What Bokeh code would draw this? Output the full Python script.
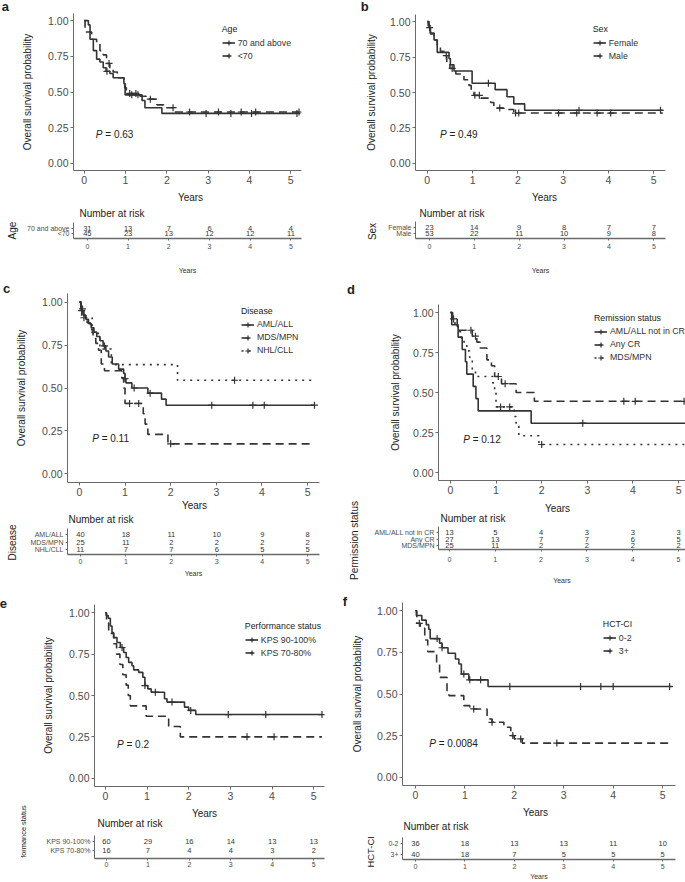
import numpy as np
from bokeh.plotting import figure
from bokeh.layouts import column, row
from bokeh.models import (Range1d, FixedTicker, PrintfTickFormatter, Label, Legend,
                          LegendItem, Title)
from bokeh.embed import file_html
from bokeh.resources import INLINE
from bokeh.core.properties import value

# ---------------- data ----------------
years = [0, 1, 2, 3, 4, 5]
y_ticks = [0.0, 0.25, 0.5, 0.75, 1.0]

# a: Age
a_groups = ["70 and above", "<70"]
a_old_t = [0, 0.1, 0.14, 0.22, 0.3, 0.38, 0.46, 0.53, 0.62, 0.7, 0.96, 0.99, 1.4, 1.47, 1.88, 5.15]
a_old_s = [1.0, 0.97, 0.87, 0.79, 0.73, 0.71, 0.67, 0.645, 0.63, 0.60, 0.56, 0.48, 0.44, 0.39, 0.35, 0.35]
a_old_cens = [0.55, 1.15, 1.3, 2.95, 3.55, 4.05, 5.15]
a_young_t = [0, 0.02, 0.18, 0.3, 0.38, 0.46, 0.54, 0.62, 0.7, 0.8, 0.96, 0.98, 1.02, 1.35, 1.5, 1.76, 1.92, 2.16, 5.2]
a_young_s = [1.0, 0.92, 0.87, 0.84, 0.79, 0.76, 0.70, 0.67, 0.64, 0.60, 0.58, 0.53, 0.49, 0.47, 0.45, 0.41, 0.39, 0.36, 0.36]
a_young_cens = [0.6, 1.1, 1.25, 1.6, 2.15, 2.55, 3.25, 3.8, 4.15, 5.2]
a_risk_old = [31, 13, 7, 6, 4, 4]
a_risk_young = [45, 23, 13, 12, 12, 11]
a_pval = "0.63"

# b: Sex
b_groups = ["Female", "Male"]
b_fem_t = [0, 0.04, 0.07, 0.15, 0.22, 0.48, 0.51, 0.59, 0.99, 1.5, 1.76, 1.91, 2.15, 5.2]
b_fem_s = [1.0, 0.957, 0.913, 0.87, 0.783, 0.739, 0.696, 0.652, 0.565, 0.52, 0.47, 0.42, 0.375, 0.375]
b_fem_cens = [0.05, 1.35, 3.35, 5.15]
b_male_t = [0, 0.02, 0.07, 0.15, 0.22, 0.29, 0.39, 0.43, 0.5, 0.63, 0.81, 0.92, 0.97, 1.03, 1.18, 1.4, 1.47, 1.69, 1.91, 5.2]
b_male_s = [1.0, 0.97, 0.92, 0.87, 0.82, 0.79, 0.76, 0.71, 0.67, 0.63, 0.59, 0.55, 0.5, 0.48, 0.46, 0.43, 0.39, 0.38, 0.355, 0.355]
b_male_cens = [0.42, 0.55, 1.05, 1.15, 1.6, 1.95, 2.02, 2.9, 3.3, 3.75, 4.05]
b_risk_fem = [23, 14, 9, 8, 7, 7]
b_risk_male = [53, 22, 11, 10, 9, 8]
b_pval = "0.49"

# MDS/MPN group (shown in c and d)
mds_t = [0, 0.03, 0.1, 0.17, 0.24, 0.3, 0.36, 0.42, 0.48, 0.55, 0.93, 0.97, 1.0, 1.4, 1.44, 1.5, 1.94, 5.15]
mds_s = [1.0, 0.96, 0.92, 0.88, 0.84, 0.80, 0.76, 0.72, 0.64, 0.60, 0.56, 0.50, 0.41, 0.35, 0.29, 0.23, 0.175, 0.175]
mds_cens = [0.07, 1.1, 1.3, 2.0]
mds_risk = [25, 11, 2, 2, 2, 2]

# c: Disease
c_groups = ["AML/ALL", "MDS/MPN", "NHL/CLL"]
c_aml_t = [0, 0.04, 0.08, 0.14, 0.2, 0.26, 0.32, 0.38, 0.45, 0.52, 0.58, 0.64, 0.72, 0.86, 0.97, 1.0, 1.02, 1.15, 1.5, 1.8, 1.9, 5.15]
c_aml_s = [1.0, 0.95, 0.925, 0.9, 0.875, 0.85, 0.825, 0.8, 0.775, 0.745, 0.715, 0.68, 0.64, 0.61, 0.585, 0.555, 0.53, 0.50, 0.47, 0.435, 0.40, 0.40]
c_aml_cens = [0.05, 0.55, 1.0, 1.2, 1.55, 2.9, 3.8, 4.05, 5.15]
c_nhl_t = [0, 0.05, 0.28, 0.45, 0.7, 2.15, 5.15]
c_nhl_s = [1.0, 0.909, 0.818, 0.727, 0.636, 0.545, 0.545]
c_nhl_cens = [0.1, 3.4]
c_risk_aml = [40, 18, 11, 10, 9, 8]
c_risk_nhl = [11, 7, 7, 6, 5, 5]
c_pval = "0.11"

# d: Remission status
d_groups = ["AML/ALL not in CR", "Any CR", "MDS/MPN"]
d_nocr_t = [0, 0.03, 0.17, 0.26, 0.33, 0.36, 0.5, 0.56, 0.61, 1.77, 5.2]
d_nocr_s = [1.0, 0.923, 0.846, 0.769, 0.692, 0.615, 0.538, 0.462, 0.385, 0.308, 0.308]
d_nocr_cens = [2.9]
d_cr_t = [0, 0.05, 0.15, 0.48, 0.58, 0.65, 0.8, 0.9, 0.97, 1.12, 1.44, 1.84, 5.2]
d_cr_s = [1.0, 0.963, 0.889, 0.852, 0.815, 0.778, 0.704, 0.667, 0.60, 0.555, 0.50, 0.445, 0.445]
d_cr_cens = [0.45, 0.55, 1.05, 1.2, 3.8, 4.05, 5.12]
d_risk_nocr = [13, 5, 4, 3, 3, 3]
d_risk_cr = [27, 13, 7, 7, 6, 5]
d_pval = "0.12"

# e: Performance status
e_groups = ["KPS 90-100%", "KPS 70-80%"]
e_hi_t = [0, 0.02, 0.07, 0.12, 0.16, 0.2, 0.28, 0.36, 0.44, 0.5, 0.56, 0.64, 0.68, 0.8, 0.9, 0.95, 1.02, 1.1, 1.42, 1.48, 1.9, 2.0, 2.17, 5.2]
e_hi_s = [1.0, 0.983, 0.967, 0.92, 0.88, 0.85, 0.82, 0.79, 0.76, 0.73, 0.70, 0.68, 0.655, 0.64, 0.61, 0.56, 0.54, 0.52, 0.48, 0.46, 0.43, 0.41, 0.385, 0.385]
e_hi_cens = [0.4, 0.95, 1.2, 1.6, 2.05, 2.95, 3.85, 5.2]
e_lo_t = [0, 0.03, 0.08, 0.2, 0.27, 0.35, 0.42, 0.5, 0.55, 0.6, 0.98, 1.52, 1.8, 5.2]
e_lo_s = [1.0, 0.9375, 0.875, 0.8125, 0.75, 0.6875, 0.625, 0.5625, 0.5, 0.4375, 0.375, 0.3125, 0.25, 0.25]
e_lo_cens = [3.4, 4.05]
e_risk_hi = [60, 29, 16, 14, 13, 13]
e_risk_lo = [16, 7, 4, 4, 3, 2]
e_pval = "0.2"

# f: HCT-CI
f_groups = ["0-2", "3+"]
f_lo_t = [0, 0.02, 0.13, 0.22, 0.27, 0.3, 0.49, 0.54, 0.66, 0.81, 0.88, 0.93, 1.08, 1.47, 5.2]
f_lo_s = [1.0, 0.972, 0.944, 0.917, 0.889, 0.833, 0.806, 0.778, 0.745, 0.71, 0.68, 0.62, 0.585, 0.545, 0.545]
f_lo_cens = [0.44, 0.54, 0.98, 1.1, 1.32, 1.91, 3.34, 3.75, 4.0, 5.14]
f_hi_t = [0, 0.03, 0.1, 0.19, 0.25, 0.43, 0.49, 0.64, 0.68, 0.98, 1.1, 1.45, 1.55, 1.79, 1.93, 2.0, 2.16, 5.2]
f_hi_s = [1.0, 0.925, 0.895, 0.825, 0.755, 0.684, 0.60, 0.52, 0.49, 0.43, 0.41, 0.35, 0.33, 0.30, 0.25, 0.23, 0.205, 0.205]
f_hi_cens = [0.08, 1.18, 1.55, 1.97, 2.13, 2.86]
f_risk_lo = [36, 18, 13, 13, 11, 10]
f_risk_hi = [40, 18, 7, 5, 5, 5]
f_pval = "0.0084"

# ---------------- styling / layout ----------------
FONT = "Liberation Sans"
LINE = "#333333"
AXC = "#6a6a6a"
TXT = "#4d4d4d"
DARK = "#222222"
SX = 1.0
SY = 1.0
DASH = {"solid": "solid", "dashed": "8 5", "dotted": "2 5"}

# Arial / Liberation Sans advance widths (1/1000 em) for text-size estimates
_W = {' ': 278, '-': 333, '%': 889, '/': 278, '+': 584, '<': 584, '.': 278, 'A': 667, 'B': 667,
      'C': 722, 'D': 722, 'E': 667, 'F': 611, 'H': 722, 'I': 278, 'K': 667, 'L': 556, 'M': 833,
      'N': 722, 'P': 667, 'R': 722, 'S': 667, 'T': 611, 'a': 556, 'b': 556, 'c': 500, 'd': 556,
      'e': 556, 'f': 278, 'g': 556, 'h': 556, 'i': 222, 'k': 500, 'l': 222, 'm': 833, 'n': 556,
      'o': 556, 'p': 556, 'r': 333, 's': 500, 't': 278, 'u': 556, 'v': 500, 'x': 500, 'y': 500}


def text_w(s, fs):
    return sum(_W.get(ch, 556) for ch in s) / 1000.0 * fs


def sx(v):
    return int(round(v * SX))


def sy(v):
    return int(round(v * SY))


def th(fs):
    return 1.117 * fs + 0.3


GEOM = {
    "a": dict(box=(0, 0, 340, 280), split=188, kx0=84, kx5=290, ky1=20, ky0=163,
              tleft=70, trows=[228, 233], taxis=238, tls=3, letter=(5, 5), nar=(76, 213),
              ykm=(187, 197), ytb=(187, 270), ylab=(12, 230, 10), leg=(222, 56), yls=12),
    "b": dict(box=(340, 0, 685, 280), split=188, kx0=427, kx5=653, ky1=21, ky0=163,
              tleft=413, trows=[227, 233], taxis=238, tls=3, letter=(364, 6), nar=(417, 213),
              ykm=(542, 197), ytb=(542, 270), ylab=(373, 231, 10), leg=(593, 56), yls=10),
    "c": dict(box=(0, 280, 340, 593), split=499, kx0=78, kx5=307, ky1=302, ky0=473,
              tleft=65, trows=[534, 542, 549], taxis=554, tls=2, letter=(5, 288), nar=(66, 519),
              ykm=(192, 505), ytb=(194, 573), ylab=(12, 542, 10), leg=(240, 350), yls=12),
    "d": dict(box=(340, 280, 685, 593), split=498, kx0=447, kx5=678, ky1=312, ky0=472,
              tleft=436, trows=[532, 538, 545], taxis=549, tls=5, letter=(347, 289), nar=(438, 518),
              ykm=(555, 508), ytb=(560, 580), ylab=(355, 540, 10), leg=(591, 357), yls=9),
    "e": dict(box=(0, 593, 340, 882), split=804, kx0=105, kx5=313, ky1=612, ky0=778,
              tleft=93, trows=[841, 850], taxis=858, tls=1, letter=(3, 600), nar=(96, 823),
              ykm=(203, 813), ytb=None, ylab=(25, 830, 7.4), leg=(245, 653), yls=12),
    "f": dict(box=(340, 593, 685, 882), split=804, kx0=415, kx5=662, ky1=610, ky0=777,
              tleft=402, trows=[844, 855], taxis=860, tls=2, letter=(346, 601), nar=(403, 827),
              ykm=(535, 813), ytb=(537, 877), ylab=(373, 852, 9.4), leg=(603, 651), yls=11),
}


def style_axis(ax, size):
    ax.axis_line_color = AXC
    ax.axis_line_width = 1
    ax.major_tick_line_color = AXC
    ax.major_tick_in = 0
    ax.minor_tick_line_color = None
    ax.minor_tick_in = 0
    ax.minor_tick_out = 0
    ax.major_label_text_font = FONT
    ax.major_label_text_font_size = size
    ax.major_label_text_color = TXT
    ax.axis_label_text_font = FONT
    ax.axis_label_text_font_style = "normal"
    ax.axis_label_text_color = DARK


def add_title(fig, side, text, fs, offset, standoff, valign, style="normal", color=DARK):
    fig.add_layout(Title(text=text, align="left", offset=offset, standoff=standoff,
                         vertical_align=valign, text_font=FONT, text_font_size="%.2fpx" % fs,
                         text_font_style=style, text_color=color), side)


def stack_above(fig, items, border):
    """items nearest-first: (text, font_px, centre distance above frame, x offset, style)."""
    off = 0.0
    for text, fs, c, ox, style in items:
        h = th(fs)
        if 2 * (c - off) - 2 > border - off - 0.5:
            need = 2 * (c - off) - 2 - (border - off - 0.7)
            add_title(fig, "above", " ", 1, 0, need - 2 - th(1), "top")
            off += need
        if 2 * (c - off) - 2 >= 1:
            s = 2 * (c - off - 2 - h / 2)
            add_title(fig, "above", text, fs, ox, s, "top", style)
        else:
            s = 2 * (c - off) - h
            add_title(fig, "above", text, fs, ox, s, "bottom", style)
        off += 2 + h + s


def make_panel(key, letter, strata, legend_title, pval, ylabel_text):
    g = GEOM[key]
    bx0, by0, bx1, by1 = g["box"]
    ppy = (g["kx5"] - g["kx0"]) / 5.0
    ppu = g["ky0"] - g["ky1"]
    L = g["kx0"] - 0.26 * ppy
    R = min(g["kx5"] + 0.26 * ppy, bx1)
    T = g["ky1"] - 0.05 * ppu
    B = g["ky0"] + 0.05 * ppu
    W = sx(bx1) - sx(bx0)
    split = g["split"]

    top_border = sy(T) - sy(by0)
    p = figure(width=W, height=sy(split) - sy(by0),
               x_range=Range1d((L - g["kx0"]) / ppy, (R - g["kx0"]) / ppy),
               y_range=Range1d(-0.05, 1.05),
               min_border_left=sx(L) - sx(bx0), min_border_right=sx(bx1) - sx(R),
               min_border_top=top_border, min_border_bottom=sy(split) - sy(B),
               output_backend="svg", toolbar_location=None, tools="")
    p.xgrid.visible = False
    p.ygrid.visible = False
    p.outline_line_color = None
    p.background_fill_color = "white"
    p.border_fill_color = "white"
    p.xaxis.ticker = FixedTicker(ticks=years)
    p.yaxis.ticker = FixedTicker(ticks=y_ticks)
    p.yaxis.formatter = PrintfTickFormatter(format="%.2f")
    style_axis(p.xaxis[0], "10.5px")
    style_axis(p.yaxis[0], "10.5px")
    for ax in (p.xaxis[0], p.yaxis[0]):
        ax.major_tick_out = 3
        ax.major_label_standoff = 2
    p.yaxis.axis_label = "Overall survival probability"
    p.yaxis.axis_label_text_font_size = "10px"
    p.yaxis.axis_label_standoff = g["yls"]

    items = []
    for name, t, s, cens, dash, risk in strata:
        t = np.asarray(t, float)
        s = np.asarray(s, float)
        lr = p.step(t, s, mode="after", line_color=LINE, line_width=1.6, line_dash=DASH[dash])
        c = np.asarray(cens, float)
        cy = s[np.searchsorted(t, c, side="right") - 1]
        cr = p.scatter(c, cy, marker="cross", size=7, line_color=LINE, line_width=1.2)
        items.append(LegendItem(label=name, renderers=[lr, cr]))

    lx, ly = g["leg"]
    leg = Legend(items=items, title=legend_title, location=((lx - L) * SX, (B - (ly + 6.5)) * SY),
                 title_text_font=FONT, title_text_font_size="8.8px", title_text_font_style="normal",
                 title_text_color=DARK, label_text_font=FONT, label_text_font_size="8.8px",
                 label_text_color="#333333", glyph_width=13, glyph_height=13, label_height=13,
                 spacing=0, padding=0, margin=0, label_standoff=3, title_standoff=2,
                 border_line_color=None, background_fill_alpha=0)
    p.add_layout(leg)

    p.add_layout(Label(x=0.28, y=0.205, text="P", text_font=FONT, text_font_size="10px",
                       text_font_style="italic", text_baseline="middle", text_color=DARK))
    p.add_layout(Label(x=0.28, y=0.205, x_offset=9.5, text="= " + pval, text_font=FONT,
                       text_font_size="10px", text_baseline="middle", text_color=DARK))

    lxp, lyp = g["letter"]
    stack_above(p, [(letter, 13, (T - lyp) * SY, (lxp - 3.5 - L) * SX, "bold")], top_border)

    # ---------- risk table ----------
    n = len(strata)
    rows = g["trows"]
    dpx = (rows[-1] - rows[0]) / (n - 1)
    tL = g["tleft"]
    tT = rows[0] - 6
    tB = g["taxis"]

    def v(ypx):
        return n - (ypx - rows[0]) / dpx

    t = figure(width=W, height=sy(by1) - sy(split),
               x_range=Range1d((tL - g["kx0"]) / ppy, (R - g["kx0"]) / ppy),
               y_range=Range1d(v(tB), v(split)),
               min_border_left=sx(tL) - sx(bx0), min_border_right=sx(bx1) - sx(R),
               min_border_top=0, min_border_bottom=sy(by1) - sy(tB),
               output_backend="svg", toolbar_location=None, tools="")
    t.xgrid.visible = False
    t.ygrid.visible = False
    t.outline_line_color = None
    t.background_fill_color = "white"
    t.border_fill_color = "white"
    t.xaxis.ticker = FixedTicker(ticks=years)
    style_axis(t.xaxis[0], "7px")
    t.xaxis.axis_line_width = 1.6
    t.xaxis.major_tick_out = 2
    t.xaxis.major_label_standoff = g["tls"]
    if g["ytb"] is not None:
        t.xaxis.axis_label = "Years"
        t.xaxis.axis_label_text_font_size = "7px"
        t.xaxis.axis_label_text_color = "#333333"
        cy_ = (g["ytb"][1] - tB) * SY
        t.xaxis.axis_label_standoff = max(0, int(round(cy_ - 2 - g["tls"] - th(7) - th(7) / 2 + 0.3)))
    style_axis(t.yaxis[0], "7px")
    t.yaxis.bounds = (v(tB), v(tT))
    t.yaxis.major_tick_out = 2
    t.yaxis.major_label_standoff = 2
    t.yaxis.ticker = FixedTicker(ticks=[n - i for i in range(n)])
    t.yaxis.major_label_overrides = {n - i: strata[i][0] for i in range(n)}
    for i, st in enumerate(strata):
        risk = st[5]
        t.text(x=years, y=[n - i] * len(years), text=[str(r) for r in risk],
               text_font=value(FONT), text_font_size="7.5px", text_align="center",
               text_baseline="middle", text_color="#333333")

    # texts above the table (inside the table's frame)
    nx, ny = g["nar"]
    t.add_layout(Label(x=(nx - tL) * SX, y=(tB - ny) * SY, x_units="screen", y_units="screen",
                       text="Number at risk", text_font=FONT, text_font_size="10px",
                       text_baseline="middle", text_color=DARK))
    kx, ky = g["ykm"]
    t.add_layout(Label(x=(kx - tL) * SX, y=(tB - ky) * SY, x_units="screen", y_units="screen",
                       text="Years", text_font=FONT, text_font_size="10px", text_align="center",
                       text_baseline="middle", text_color=DARK))

    # stratum-variable label, rotated, left of the stratum names
    ylx, yly, ylsz = g["ylab"]
    yaxis_w = 2 + 2 + max(text_w(st[0], 7) for st in strata)
    h = th(ylsz)
    c = (tL - ylx) * SX
    border_l = sx(tL) - sx(bx0)
    if key == "e":
        t.yaxis.axis_label = ylabel_text
        t.yaxis.axis_label_text_font_size = "%.1fpx" % ylsz
        t.yaxis.axis_label_standoff = max(0, int(round(c - yaxis_w - h / 2)))
    else:
        c = min(c, (border_l - 0.8 + yaxis_w + 2) / 2)
        s = 2 * (c - yaxis_w - 2 - h / 2)
        off_y = (tB - yly) * SY - text_w(ylabel_text, ylsz) / 2
        t.add_layout(Title(text=ylabel_text, align="left", offset=off_y, standoff=s,
                           vertical_align="top", text_font=FONT,
                           text_font_size="%.1fpx" % ylsz, text_font_style="normal",
                           text_color=DARK), "left")

    return column(p, t, spacing=0)


pa = make_panel("a", "a", [
    (a_groups[0], a_old_t, a_old_s, a_old_cens, "solid", a_risk_old),
    (a_groups[1], a_young_t, a_young_s, a_young_cens, "dashed", a_risk_young)],
    "Age", a_pval, "Age")
pb = make_panel("b", "b", [
    (b_groups[0], b_fem_t, b_fem_s, b_fem_cens, "solid", b_risk_fem),
    (b_groups[1], b_male_t, b_male_s, b_male_cens, "dashed", b_risk_male)],
    "Sex", b_pval, "Sex")
pc = make_panel("c", "c", [
    (c_groups[0], c_aml_t, c_aml_s, c_aml_cens, "solid", c_risk_aml),
    (c_groups[1], mds_t, mds_s, mds_cens, "dashed", mds_risk),
    (c_groups[2], c_nhl_t, c_nhl_s, c_nhl_cens, "dotted", c_risk_nhl)],
    "Disease", c_pval, "Disease")
pd_ = make_panel("d", "d", [
    (d_groups[0], d_nocr_t, d_nocr_s, d_nocr_cens, "solid", d_risk_nocr),
    (d_groups[1], d_cr_t, d_cr_s, d_cr_cens, "dashed", d_risk_cr),
    (d_groups[2], mds_t, mds_s, mds_cens, "dotted", mds_risk)],
    "Remission status", d_pval, "Permission status")
pe = make_panel("e", "e", [
    (e_groups[0], e_hi_t, e_hi_s, e_hi_cens, "solid", e_risk_hi),
    (e_groups[1], e_lo_t, e_lo_s, e_lo_cens, "dashed", e_risk_lo)],
    "Performance status", e_pval, "formance status")
pf = make_panel("f", "f", [
    (f_groups[0], f_lo_t, f_lo_s, f_lo_cens, "solid", f_risk_lo),
    (f_groups[1], f_hi_t, f_hi_s, f_hi_cens, "dashed", f_risk_hi)],
    "HCT-CI", f_pval, "HCT-CI")

layout = column(row(pa, pb, spacing=0), row(pc, pd_, spacing=0), row(pe, pf, spacing=0), spacing=0)

with open("out.html", "w") as fh:
    fh.write(file_html(layout, INLINE, title="Overall survival"))
